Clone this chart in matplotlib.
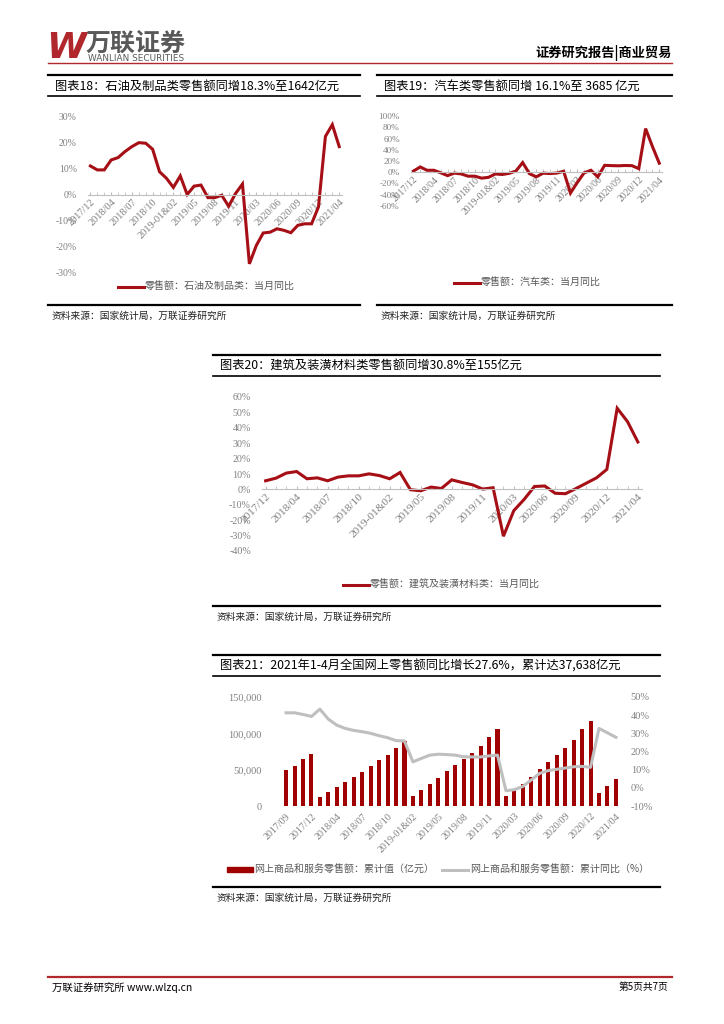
import numpy as np
import matplotlib
matplotlib.use('Agg')
import matplotlib.pyplot as plt
from matplotlib.lines import Line2D
from matplotlib.patches import Patch

plt.rcParams['font.family'] = ['Noto Sans CJK SC', 'DejaVu Sans']
plt.rcParams['axes.unicode_minus'] = False

W, H = 724, 1024
RED = '#A50F15'
BAR = '#A00000'
GREY_LINE = '#BFBFBF'
TICK = '#808080'
NUMFONT = ['Liberation Serif', 'Noto Sans CJK SC']

# ---- data ----
ticks_a = ['2017/12', '2018/04', '2018/07', '2018/10', '2019-01&02', '2019/05', '2019/08',
           '2019/11', '2020/03', '2020/06', '2020/09', '2020/12', '2021/04']
ticks_b = ['2017/09', '2017/12', '2018/04', '2018/07', '2018/10', '2019-01&02', '2019/05',
           '2019/08', '2019/11', '2020/03', '2020/06', '2020/09', '2020/12', '2021/04']

petro = [10.9, 9.4, 9.4, 13.2, 14.1, 16.4, 18.3, 19.8, 19.6, 17.3, 8.7, 6.2, 2.7, 7.1, 0.0,
         3.2, 3.6, -1.2, -1.2, -0.3, -4.5, 0.4, 4.0, -26.5, -19.5, -14.7, -14.4, -13.1,
         -13.7, -14.6, -11.8, -11.2, -11.2, -4.7, 22.2, 26.7, 18.3]
auto = [2.0, 9.4, 3.5, 3.5, -1.0, -6.0, -1.5, -3.0, -7.0, -7.0, -10.5, -9.0, -3.0, -4.0,
        -2.0, 2.0, 17.2, -2.6, -8.1, -1.6, -2.3, -1.5, 1.8, -37.0, -18.1, -1.0, 3.5, -8.2,
        12.3, 11.8, 11.5, 12.0, 11.7, 6.4, 77.6, 45.7, 16.1]
build = [5.6, 7.3, 10.6, 11.6, 6.9, 7.5, 5.6, 8.0, 8.8, 8.8, 10.1, 9.0, 6.9, 11.0, -0.2,
         -0.9, 1.5, 0.6, 6.2, 4.5, 3.0, 0.2, 1.1, -30.4, -13.8, -6.5, 1.9, 2.2, -2.5, -2.8,
         0.5, 4.0, 7.5, 13.0, 52.7, 44.0, 30.8]
online_cum = [49000, 55000, 64000, 71751,
              12300, 19000, 26000, 32700, 40500, 47300, 55000, 62700, 70400, 80400, 90065,
              14140, 22379, 30439, 38641, 48161, 56300, 64600, 73200, 82800, 95000, 106324,
              13712, 22169, 30641, 40175, 51501, 60581, 70326, 80065, 91275, 105374, 117601,
              17587, 28093, 37638]
online_yoy = [41.3, 41.3, 40.4, 39.3,
              43.3, 37.8, 34.5, 32.7, 31.6, 30.9, 30.0, 28.7, 27.6, 26.0, 25.8,
              14.3, 16.2, 18.0, 18.5, 18.3, 18.0, 17.1, 17.0, 17.0, 17.6, 18.0,
              -1.6, -1.0, 0.8, 4.4, 8.0, 9.5, 10.2, 10.9, 11.6, 11.8, 11.3,
              32.7, 30.3, 27.8]

fig = plt.figure(figsize=(W / 100, H / 100), dpi=100)
bg = fig.add_axes([0, 0, 1, 1])
bg.set_xlim(0, W)
bg.set_ylim(H, 0)
bg.axis('off')


def box(x0, y0, x1, y1):
    # pixel box -> figure fraction
    return [x0 / W, 1 - y1 / H, (x1 - x0) / W, (y1 - y0) / H]


def frame(x0, x1, ytop, ybot, ysrc, title):
    bg.plot([x0, x1], [ytop, ytop], color='black', lw=1.6)
    bg.plot([x0, x1], [ybot, ybot], color='black', lw=1.2)
    bg.text(x0 + 7, (ytop + ybot) / 2 + 0.5, title, fontsize=8.8, va='center', ha='left', color='black')
    bg.plot([x0, x1], [ysrc, ysrc], color='black', lw=1.6)
    bg.text(x0 + 4, ysrc + 11, '资料来源：国家统计局，万联证券研究所', fontsize=7, va='center',
            ha='left', color='#222222', style='italic')


def line_chart(rect, vals, ylim, ystep, labels, leg, legxy, fs=7, xfs=7):
    ax = fig.add_axes(box(*rect))
    # spine position first: it resets the ticks
    for s in ['top', 'right', 'left']:
        ax.spines[s].set_visible(False)
    ax.spines['bottom'].set_position(('data', 0))
    ax.spines['bottom'].set_color('#BFBFBF')
    x = np.arange(len(vals))
    ax.plot(x, vals, color=RED, lw=2.2, solid_joinstyle='miter')
    ax.set_xlim(-0.35, len(vals) - 0.6)
    ax.set_ylim(*ylim)
    yt = np.arange(ylim[0], ylim[1] + 0.1, ystep)
    ax.set_yticks(yt)
    ax.set_yticklabels(['%d%%' % v for v in yt], fontsize=fs, color=TICK, family=NUMFONT)
    ax.set_xticks(x, minor=True)
    ax.set_xticks(x[::3])
    ax.set_xticklabels(labels, rotation=45, ha='right', rotation_mode='anchor',
                       fontsize=xfs, color=TICK, family=NUMFONT)
    ax.tick_params(axis='x', which='both', direction='in', length=2.5, color='#BFBFBF', pad=2)
    ax.tick_params(axis='y', length=0, pad=8)
    ax.patch.set_alpha(0)
    ax.legend(handles=[Line2D([], [], color=RED, lw=2.2)], labels=[leg], loc='center',
              bbox_to_anchor=(legxy[0] / W, 1 - legxy[1] / H), bbox_transform=fig.transFigure,
              frameon=False, fontsize=7.2, handlelength=2.6, handletextpad=0.1,
              labelcolor='#595959', borderaxespad=0, borderpad=0)
    return ax


# ---- header ----
bg.text(46, 48, 'W', fontsize=26, fontweight='bold', style='italic', color='#B0282C',
        va='center', ha='left', family='DejaVu Sans')
bg.text(86, 44, '万联证券', fontsize=18, fontweight='bold', color='#595959', va='center', ha='left')
bg.text(88, 58.5, 'WANLIAN SECURITIES', fontsize=6.4, color='#595959', va='center', ha='left',
        family='DejaVu Sans')
bg.text(672, 53, '证券研究报告|商业贸易', fontsize=9.5, fontweight='bold', color='black',
        va='center', ha='right')
bg.plot([48, 672], [63, 63], color='#B0282C', lw=1.0)

# ---- footer ----
bg.plot([48, 672], [977, 977], color='#B0282C', lw=1.6)
bg.text(52, 988, '万联证券研究所 www.wlzq.cn', fontsize=7.5, color='black', va='center', ha='left')
bg.text(668, 987, '第5页共7页', fontsize=7, color='black', va='center', ha='right')

# ---- frames ----
frame(48, 360, 75, 96, 305, '图表18：石油及制品类零售额同增18.3%至1642亿元')
frame(377, 672, 75, 96, 305, '图表19：汽车类零售额同增 16.1%至 3685 亿元')
frame(213, 660, 355, 376, 606, '图表20：建筑及装潢材料类零售额同增30.8%至155亿元')
frame(213, 660, 655, 676, 887, '图表21：2021年1-4月全国网上零售额同比增长27.6%，累计达37,638亿元')

# ---- charts 18-20 ----
line_chart((88, 116, 342, 273), petro, (-30, 30), 10, ticks_a,
           '零售额：石油及制品类：当月同比', (206, 287), fs=7, xfs=7.4)
line_chart((411, 116, 662, 206), auto, (-60, 100), 20, ticks_a,
           '零售额：汽车类：当月同比', (527, 283), fs=6.6, xfs=7)
line_chart((262, 397, 642, 551), build, (-40, 60), 10, ticks_a,
           '零售额：建筑及装潢材料类：当月同比', (441, 585), fs=7.2, xfs=8.2)

# ---- chart 21 ----
ax = fig.add_axes(box(281, 697, 621, 806))
xb = np.arange(len(online_cum))
ax.bar(xb, online_cum, width=0.48, color=BAR)
ax.set_xlim(-0.6, len(online_cum) - 0.4)
ax.set_ylim(0, 150000)
ax.set_yticks([0, 50000, 100000, 150000])
ax.set_yticklabels(['0', '50,000', '100,000', '150,000'], fontsize=7.5, color=TICK, family=NUMFONT)
ax.set_xticks(xb[::3])
ax.set_xticklabels(ticks_b, rotation=45, ha='right', rotation_mode='anchor',
                   fontsize=7.2, color=TICK, family=NUMFONT)
ax.tick_params(length=0)
ax.tick_params(axis='y', pad=14)
ax.tick_params(axis='x', pad=4)
for s in ax.spines.values():
    s.set_visible(False)
ax2 = ax.twinx()
ax2.plot(xb, online_yoy, color=GREY_LINE, lw=2.2)
ax2.set_ylim(-10, 50)
ax2.set_yticks(np.arange(-10, 51, 10))
ax2.set_yticklabels(['%d%%' % v for v in np.arange(-10, 51, 10)], fontsize=7.5, color=TICK,
                    family=NUMFONT)
ax2.tick_params(length=0, pad=7)
for s in ax2.spines.values():
    s.set_visible(False)
ax2.legend(handles=[Patch(color=BAR), Line2D([], [], color=GREY_LINE, lw=2.2)],
           labels=['网上商品和服务零售额：累计值（亿元）', '网上商品和服务零售额：累计同比（%）'],
           loc='center', bbox_to_anchor=(438 / W, 1 - 870 / H), bbox_transform=fig.transFigure,
           ncol=2, frameon=False, fontsize=7.2, handlelength=2.6, handleheight=0.5,
           handletextpad=0.15, columnspacing=0.8, labelcolor='#595959', borderaxespad=0,
           borderpad=0)

fig.savefig('out.png', dpi=100)
